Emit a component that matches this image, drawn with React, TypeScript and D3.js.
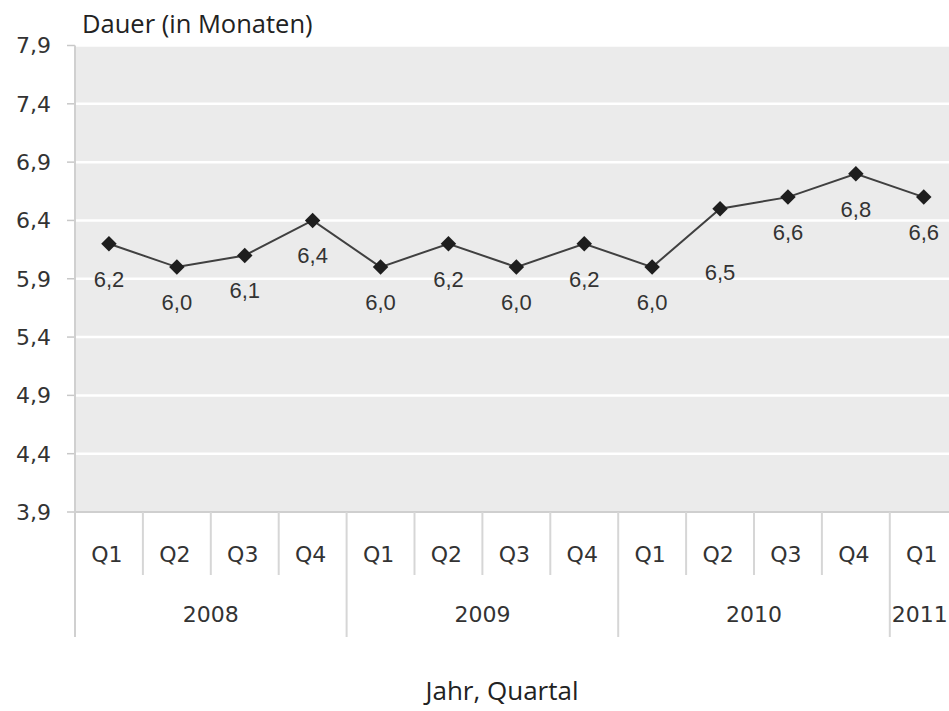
import React from "react";
import * as d3 from "d3";

const years = ["2008", "2009", "2010", "2011"];
const quarters = ["Q1", "Q2", "Q3", "Q4", "Q1", "Q2", "Q3", "Q4", "Q1", "Q2", "Q3", "Q4", "Q1"];
const yearOfPoint = [0, 0, 0, 0, 1, 1, 1, 1, 2, 2, 2, 2, 3];
const values = [6.2, 6.0, 6.1, 6.4, 6.0, 6.2, 6.0, 6.2, 6.0, 6.5, 6.6, 6.8, 6.6];
const yTicks = [3.9, 4.4, 4.9, 5.4, 5.9, 6.4, 6.9, 7.4, 7.9];

const W = 949;
const H = 711;
const left = 75;
const top = 45.5;
const bottom = 512;
const band = 67.9;

export default function App() {
  const x = d3
    .scaleBand<number>()
    .domain(values.map((_, i) => i))
    .range([left, left + band * values.length])
    .paddingInner(0)
    .paddingOuter(0);
  const y = d3.scaleLinear().domain([3.9, 7.9]).range([bottom, top]);
  const cx = (i: number) => (x(i) as number) + x.bandwidth() / 2;
  const line = d3
    .line<number>()
    .x((_, i) => cx(i))
    .y((d) => y(d));
  const fmt = (v: number) => v.toFixed(1).replace(".", ",");
  const plotRight = left + band * values.length;

  const yearGroups = years.map((yr, yi) => {
    const idx = yearOfPoint.map((v, i) => (v === yi ? i : -1)).filter((i) => i >= 0);
    const x0 = x(idx[0]) as number;
    const x1 = (x(idx[idx.length - 1]) as number) + x.bandwidth();
    return { yr, x0, x1 };
  });

  const axisFont = "'DejaVu Sans', sans-serif";
  const titleFont = "'Open Sans', 'Noto Sans', sans-serif";
  const labelFont = "'Liberation Sans', Arial, sans-serif";

  return (
    <svg
      width={W}
      height={H}
      style={{ position: "absolute", left: 0, top: 0, background: "#fff" }}
    >
      <rect x={left} y={top} width={plotRight - left} height={bottom - top} fill="#ebebeb" />
      {yTicks.map((t) => (
        <g key={t}>
          {t !== 3.9 && (
            <line x1={left} x2={plotRight} y1={y(t)} y2={y(t)} stroke="#ffffff" strokeWidth={2.5} />
          )}
          <line x1={left - 8} x2={left} y1={y(t)} y2={y(t)} stroke="#c8c8c8" strokeWidth={1.5} />
          <text
            x={51}
            y={y(t)}
            dy="0.36em"
            textAnchor="end"
            fontFamily={axisFont}
            fontSize={22}
            fill="#333"
          >
            {fmt(t)}
          </text>
        </g>
      ))}
      <line x1={left} x2={plotRight} y1={bottom} y2={bottom} stroke="#cfcfcf" strokeWidth={2} />
      <line x1={left} x2={left} y1={top} y2={637} stroke="#d0d0d0" strokeWidth={2} />
      {values.map((_, i) =>
        i === 0 ? null : (
          <line
            key={"d" + i}
            x1={x(i) as number}
            x2={x(i) as number}
            y1={bottom}
            y2={yearOfPoint[i] !== yearOfPoint[i - 1] ? 637 : 575}
            stroke="#d6d6d6"
            strokeWidth={2}
          />
        )
      )}
      {quarters.map((q, i) => (
        <text
          key={"q" + i}
          x={cx(i) - 2}
          y={554}
          dy="0.36em"
          textAnchor="middle"
          fontFamily={axisFont}
          fontSize={22}
          fill="#333"
        >
          {q}
        </text>
      ))}
      {yearGroups.map((g) => (
        <text
          key={g.yr}
          x={g.yr === "2011" ? g.x0 + 2 : (g.x0 + g.x1) / 2}
          y={614}
          dy="0.36em"
          textAnchor={g.yr === "2011" ? "start" : "middle"}
          fontFamily={axisFont}
          fontSize={22}
          fill="#333"
        >
          {g.yr}
        </text>
      ))}
      <path d={line(values) || ""} fill="none" stroke="#404040" strokeWidth={2} />
      {values.map((v, i) => (
        <g key={"p" + i}>
          <path
            d={d3.symbol(d3.symbolSquare, 120)() || ""}
            transform={`translate(${cx(i)},${y(v)}) rotate(45)`}
            fill="#1e1e1e"
          />
          <text
            x={cx(i)}
            y={y(v) + (i === 9 ? 63 : 35)}
            dy="0.36em"
            textAnchor="middle"
            fontFamily={labelFont}
            fontSize={22}
            fill="#333"
          >
            {fmt(v)}
          </text>
        </g>
      ))}
      <text x={82} y={33} fontFamily={titleFont} fontSize={25.5} fill="#222">
        Dauer (in Monaten)
      </text>
      <text x={502} y={700} textAnchor="middle" fontFamily={titleFont} fontSize={26} fill="#222">
        Jahr, Quartal
      </text>
    </svg>
  );
}
